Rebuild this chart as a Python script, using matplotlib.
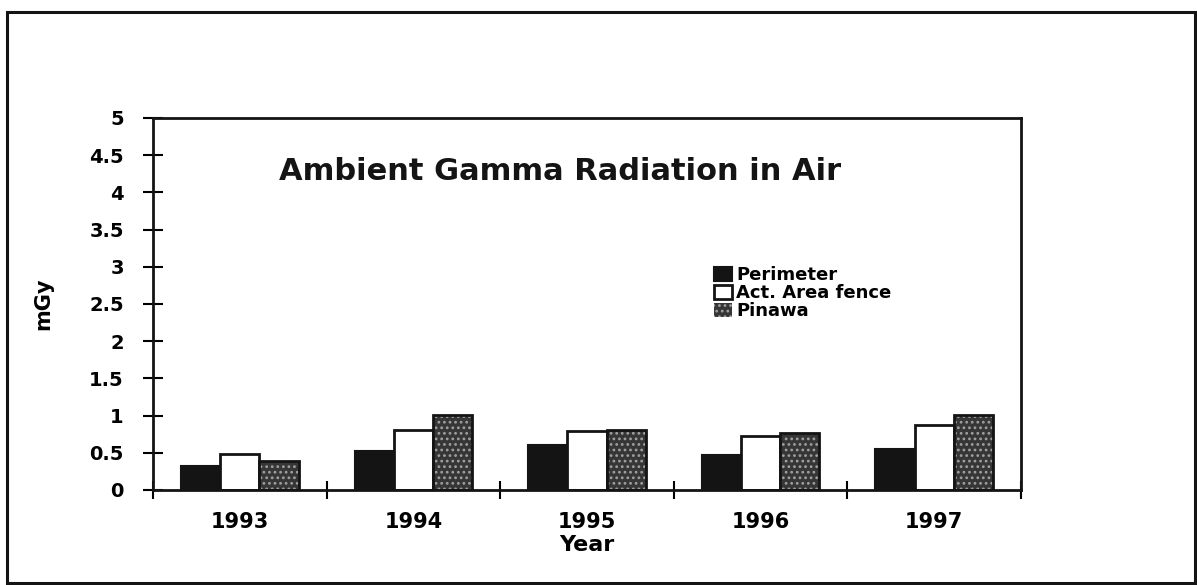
import matplotlib.pyplot as plt
import numpy as np
from matplotlib.patches import Rectangle

years = ["1993", "1994", "1995", "1996", "1997"]
perimeter = [0.32, 0.52, 0.60, 0.47, 0.55]
act_area_fence = [0.48, 0.81, 0.79, 0.72, 0.88]
pinawa = [0.39, 1.01, 0.80, 0.76, 1.01]
y_ticks = [0, 0.5, 1, 1.5, 2, 2.5, 3, 3.5, 4, 4.5, 5]

plt.rcParams["font.family"] = "DejaVu Sans"
plt.rcParams["font.weight"] = "bold"
plt.rcParams["hatch.linewidth"] = 1.2

fig = plt.figure(figsize=(11.97, 5.85), dpi=100)
ax = fig.add_axes([0.1278, 0.1624, 0.7252, 0.636])

x = np.arange(len(years))
width = 0.226

ax.bar(x - width, perimeter, width, color="#141414", edgecolor="#141414",
       linewidth=1.5, label="Perimeter")
ax.bar(x, act_area_fence, width, color="white", edgecolor="#141414",
       linewidth=2, label="Act. Area fence")
ax.bar(x + width, pinawa, width, color="#363636", edgecolor="#a0a0a0",
       hatch="...", linewidth=0, label="Pinawa")
ax.bar(x + width, pinawa, width, fill=False, edgecolor="#141414", linewidth=2)

ax.set_xlim(-0.5, len(years) - 0.5)
ax.set_ylim(0, 5)

# ticks at the category boundaries, labels at the centres
ax.set_xticks(np.arange(len(years) + 1) - 0.5)
ax.set_xticklabels([])
ax.set_xticks(x, minor=True)
ax.set_xticklabels(years, minor=True, fontsize=15, fontweight="bold")
ax.tick_params(axis="x", which="major", direction="inout", length=13, width=1.5)
ax.tick_params(axis="x", which="minor", length=0, pad=16)

ax.set_yticks(y_ticks)
ax.set_yticklabels([f"{v:g}" for v in y_ticks], fontsize=14, fontweight="bold")
ax.tick_params(axis="y", direction="inout", length=14, width=1.5, pad=14)

for spine in ax.spines.values():
    spine.set_linewidth(2)
    spine.set_color("#141414")

ax.set_ylabel("mGy", fontsize=15, fontweight="bold", labelpad=26)
ax.set_xlabel("Year", fontsize=16, fontweight="bold", labelpad=2)

ax.text(0.469, 0.857, "Ambient Gamma Radiation in Air", transform=ax.transAxes,
        ha="center", va="center", fontsize=22, fontweight="bold", color="#141414")

ax.legend(loc="upper left", bbox_to_anchor=(0.646, 0.601), frameon=False,
          fontsize=13, labelspacing=0.0, handlelength=1.0, handleheight=0.8,
          handletextpad=0.25, borderpad=0, borderaxespad=0)

# outer frame round the whole chart
fig.patches.append(Rectangle((7 / 1197, 2 / 585), 1188 / 1197, 571 / 585,
                             transform=fig.transFigure, fill=False,
                             edgecolor="#141414", linewidth=2.2))

fig.savefig("out.png", dpi=100)
